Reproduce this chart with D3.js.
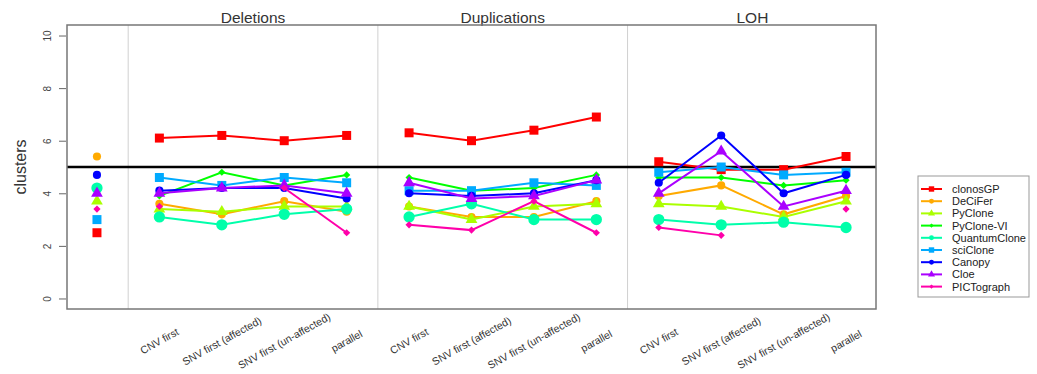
<!DOCTYPE html>
<html>
<head>
<meta charset="utf-8">
<script src="https://cdn.jsdelivr.net/npm/d3@7"></script>
<style>
  body { margin: 0; background: #fff; }
  svg { font-family: "Liberation Sans", Arial, sans-serif; }
</style>
</head>
<body>
<svg id="chart" width="1037" height="374"></svg>
<script>
var methods = ['clonosGP', 'DeCiFer', 'PyClone', 'PyClone-VI', 'QuantumClone', 'sciClone', 'Canopy', 'Cloe', 'PICTograph'];
var colors = ['#FF0000', '#FFAA00', '#AAFF00', '#00FF00', '#00FFAA', '#00AAFF', '#0000FF', '#AA00FF', '#FF00AA'];
var shapes = ['square', 'circle', 'triangle', 'diamond', 'bigcircle', 'square', 'circle', 'triangle', 'diamond'];
var scenarios = ['Deletions', 'Duplications', 'LOH'];
var orders = ['CNV first', 'SNV first (affected)', 'SNV first (un-affected)', 'parallel'];
var yTicks = [0, 2, 4, 6, 8, 10];
var refLine = 5;

// lone column on the left (one value per method)
var single = [2.5, 5.4, 3.7, null, 4.2, 3.0, 4.7, 4.0, 3.4];

// Deletions x4, Duplications x4, LOH x4
var clonosGP     = [6.1, 6.2, 6.0, 6.2,  6.3, 6.0, 6.4, 6.9,  5.2, 4.9, 4.9, 5.4];
var DeCiFer      = [3.6, 3.2, 3.7, 3.3,  3.5, 3.1, 3.1, 3.7,  3.9, 4.3, 3.2, 3.9];
var PyClone      = [3.4, 3.3, 3.5, 3.5,  3.5, 3.0, 3.5, 3.6,  3.6, 3.5, 3.1, 3.7];
var PyCloneVI    = [3.9, 4.8, 4.3, 4.7,  4.6, 4.1, 4.2, 4.7,  4.6, 4.6, 4.3, 4.5];
var QuantumClone = [3.1, 2.8, 3.2, 3.4,  3.1, 3.6, 3.0, 3.0,  3.0, 2.8, 2.9, 2.7];
var sciClone     = [4.6, 4.3, 4.6, 4.4,  4.1, 4.1, 4.4, 4.3,  4.8, 5.0, 4.7, 4.8];
var Canopy       = [4.1, 4.2, 4.2, 3.8,  4.0, 3.9, 4.0, 4.5,  4.4, 6.2, 4.0, 4.7];
var Cloe         = [4.0, 4.2, 4.3, 4.0,  4.4, 3.8, 3.9, 4.5,  4.0, 5.6, 3.5, 4.1];
var PICTograph   = [3.5, null, 4.2, 2.5,  2.8, 2.6, 3.7, 2.5,  2.7, 2.4, null, 3.4];

var series = [clonosGP, DeCiFer, PyClone, PyCloneVI, QuantumClone, sciClone, Canopy, Cloe, PICTograph];

(function() {
var svg = d3.select('#chart');
var mLeft = 67, mRight = 876, mTop = 25, mBottom = 309;

var x = d3.scaleLinear().domain([-0.48, 12.48]).range([mLeft, mRight]);
var y = d3.scaleLinear().domain([-0.4, 10.4]).range([mBottom, mTop]);

// panel dividers
[0.5, 4.5, 8.5].forEach(function(d) {
    svg.append('line')
        .attr('x1', x(d)).attr('x2', x(d))
        .attr('y1', mTop).attr('y2', mBottom)
        .style('stroke', '#d0d0d0').style('stroke-width', 1);
});

// panel titles
scenarios.forEach(function(s, i) {
    svg.append('text')
        .attr('x', x(2.5 + i * 4)).attr('y', 23)
        .attr('text-anchor', 'middle')
        .style('font-size', '15.5px').style('fill', '#333')
        .text(s);
});

// y axis
var yAxis = d3.axisLeft(y).tickValues(yTicks).tickSize(7).tickFormat(d3.format('d'));
var ga = svg.append('g').attr('transform', 'translate(' + (mLeft - 1) + ',0)').call(yAxis);
ga.select('.domain').remove();
ga.selectAll('line').style('stroke', '#666');
ga.selectAll('text')
    .attr('x', 0).attr('dy', '0.35em')
    .attr('transform', 'translate(-19,0) rotate(-90)')
    .attr('text-anchor', 'middle')
    .style('font-size', '10px').style('fill', '#444');

svg.append('text')
    .attr('transform', 'translate(26,' + y(5) + ') rotate(-90)')
    .attr('text-anchor', 'middle')
    .style('font-size', '16px').style('fill', '#333')
    .text('clusters');

// x labels
scenarios.forEach(function(s, i) {
    orders.forEach(function(o, j) {
        var px = x(1 + i * 4 + j);
        svg.append('text')
            .attr('transform', 'translate(' + px + ',341) rotate(-29)')
            .attr('text-anchor', 'middle')
            .attr('dy', '0.35em')
            .style('font-size', '10.5px').style('fill', '#333')
            .text(o);
    });
});

// reference line
svg.append('line')
    .attr('x1', mLeft).attr('x2', mRight)
    .attr('y1', y(refLine)).attr('y2', y(refLine))
    .style('stroke', '#000').style('stroke-width', 2.5);

function symbolPath(shape, scale) {
    scale = scale || 1;
    if (shape === 'square') return d3.symbol(d3.symbolSquare, 81 * scale * scale)();
    if (shape === 'circle') return d3.symbol(d3.symbolCircle, 52 * scale * scale)();
    if (shape === 'bigcircle') return d3.symbol(d3.symbolCircle, 100 * scale * scale)();
    if (shape === 'triangle') return d3.symbol(d3.symbolTriangle, 60 * scale * scale)();
    return d3.symbol(d3.symbolSquare, 26 * scale * scale)();
}

var line = d3.line()
    .defined(function(d) { return d.v != null; })
    .x(function(d) { return x(d.i); })
    .y(function(d) { return y(d.v); });

methods.forEach(function(m, k) {
    var g = svg.append('g');
    var pts = [];
    if (single[k] != null) pts.push({ i: 0, v: single[k] });
    scenarios.forEach(function(s, i) {
        var seg = series[k].slice(i * 4, i * 4 + 4).map(function(v, j) {
            return { i: 1 + i * 4 + j, v: v };
        });
        g.append('path')
            .attr('d', line(seg))
            .style('fill', 'none')
            .style('stroke', colors[k])
            .style('stroke-width', 2);
        seg.forEach(function(p) { if (p.v != null) pts.push(p); });
    });
    g.selectAll('path.pt')
        .data(pts)
        .enter()
        .append('path')
        .attr('class', 'pt')
        .attr('d', symbolPath(shapes[k]))
        .attr('transform', function(d) {
            return 'translate(' + x(d.i) + ',' + y(d.v) + ')' + (shapes[k] === 'diamond' ? ' rotate(45)' : '');
        })
        .style('fill', colors[k]);
});

// plot box
svg.append('rect')
    .attr('x', mLeft).attr('y', mTop)
    .attr('width', mRight - mLeft).attr('height', mBottom - mTop)
    .style('fill', 'none').style('stroke', '#777').style('stroke-width', 1.5);

// legend
var lg = svg.append('g').attr('transform', 'translate(918,176)');
lg.append('rect')
    .attr('width', 111).attr('height', 121)
    .style('fill', '#fff').style('stroke', '#999').style('stroke-width', 1);
methods.forEach(function(m, k) {
    var ly = 13 + k * 12.2;
    lg.append('line')
        .attr('x1', 3).attr('x2', 24).attr('y1', ly).attr('y2', ly)
        .style('stroke', colors[k]).style('stroke-width', 2);
    lg.append('path')
        .attr('d', symbolPath(shapes[k] === 'bigcircle' ? 'circle' : shapes[k], 0.6))
        .attr('transform', 'translate(13.5,' + ly + ')' + (shapes[k] === 'diamond' ? ' rotate(45)' : ''))
        .style('fill', colors[k]);
    lg.append('text')
        .attr('x', 34).attr('y', ly + 4)
        .style('font-size', '11px').style('fill', '#222')
        .text(m);
});
})();
</script>
</body>
</html>
